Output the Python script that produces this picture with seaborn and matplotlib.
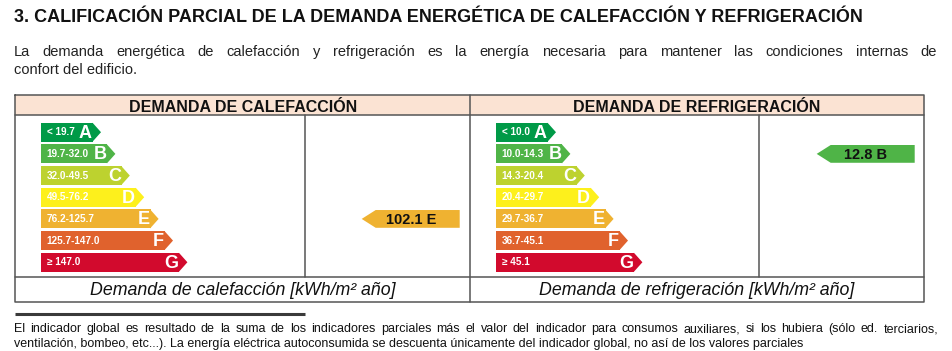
import numpy as np
import pandas as pd
import matplotlib
matplotlib.use('Agg')
import matplotlib.pyplot as plt
import seaborn as sns

# datos de la calificacion
classes = ['A', 'B', 'C', 'D', 'E', 'F', 'G']
class_colors = ['#009a47', '#4fb447', '#bdd22f', '#fdf01c', '#efb231', '#e0622d', '#d20a2d']
heat_ranges = ['< 19.7', '19.7-32.0', '32.0-49.5', '49.5-76.2', '76.2-125.7', '125.7-147.0', '≥ 147.0']
cool_ranges = ['< 10.0', '10.0-14.3', '14.3-20.4', '20.4-29.7', '29.7-36.7', '36.7-45.1', '≥ 45.1']
heat_limits = [19.7, 32.0, 49.5, 76.2, 125.7, 147.0]
cool_limits = [10.0, 14.3, 20.4, 29.7, 36.7, 45.1]
heat_value = 102.1
cool_value = 12.8

title = '3. CALIFICACIÓN PARCIAL DE LA DEMANDA ENERGÉTICA DE CALEFACCIÓN Y REFRIGERACIÓN'
intro = ['La demanda energética de calefacción y refrigeración es la energía necesaria para mantener las condiciones internas de',
         'confort del edificio.']
headers = ['DEMANDA DE CALEFACCIÓN', 'DEMANDA DE REFRIGERACIÓN']
units = ['Demanda de calefacción [kWh/m² año]', 'Demanda de refrigeración [kWh/m² año]']
footnote = ['El indicador global es resultado de la suma de los indicadores parciales más el valor del indicador para consumos auxiliares, si los hubiera (sólo ed. terciarios,',
            'ventilación, bombeo, etc...). La energía eléctrica autoconsumida se descuenta únicamente del indicador global, no así de los valores parciales']

sns.set_theme(style='white')
plt.rcParams['font.family'] = ['Liberation Sans', 'DejaVu Sans']

W, H = 953, 351
fig = plt.figure(figsize=(W / 100, H / 100), dpi=100)
fig.patch.set_facecolor('white')
renderer = fig.canvas.get_renderer()

# lienzo en pixeles para el documento y la tabla
canvas = fig.add_axes([0, 0, 1, 1])
canvas.set_xlim(0, W)
canvas.set_ylim(H, 0)
canvas.axis('off')


def fit(t, width):
    # ajustar el tamano de letra a un ancho en pixeles
    w = t.get_window_extent(renderer).width
    t.set_fontsize(t.get_fontsize() * width / w)
    return t


def justify(line, x0, x1, y, **kw):
    words = line.split()
    texts = [canvas.text(0, y, w, va='baseline', **kw) for w in words]
    widths = [t.get_window_extent(renderer).width for t in texts]
    gap = (x1 - x0 - sum(widths)) / (len(words) - 1)
    x = x0
    for t, w in zip(texts, widths):
        t.set_x(x)
        x += w + gap


# titulo y texto
fit(canvas.text(14, 22, title, fontsize=12, fontweight='bold', color='#111111'), 842)
justify(intro[0], 14, 937, 56, fontsize=10.5, color='#222222')
canvas.text(14, 74, intro[1], fontsize=10.5, color='#222222')

# tabla
line_kw = dict(color='#555555', lw=1.1)
canvas.fill_between([15, 924], 95, 115, color='#fbe3d3', lw=0)
canvas.plot([15, 924, 924, 15, 15], [95, 95, 302, 302, 95], **line_kw)
canvas.plot([15, 924], [115, 115], **line_kw)
canvas.plot([15, 924], [277, 277], **line_kw)
canvas.plot([470, 470], [95, 302], **line_kw)
canvas.plot([305, 305], [115, 277], **line_kw)
canvas.plot([759, 759], [115, 277], **line_kw)
for cx, head, unit, hw, uw in zip([243, 697], headers, units, [228, 246], [307, 317]):
    fit(canvas.text(cx, 112, head, ha='center', va='baseline', fontsize=10,
                    fontweight='bold', color='#111111'), hw)
    fit(canvas.text(cx, 295, unit, ha='center', va='baseline', fontsize=11,
                    style='italic', color='#111111'), uw)

# nota al pie
canvas.plot([15, 305], [314, 314], color='#3a3a3a', lw=2.2, solid_capstyle='butt')
last = fit(canvas.text(14, 347, footnote[1], va='baseline', fontsize=8.5,
                       color='#111111'), 786)
justify(footnote[0], 14, 938, 332, fontsize=last.get_fontsize(), color='#111111')

# escalas de letras
bar_h = 0.877
tip = 8
body = [52.3 + 14.4 * i for i in range(len(classes))]


def draw_scale(left_px, ranges, limits, value):
    ax = fig.add_axes([left_px / W, (H - 277) / H, 455 / W, 162 / H])
    df = pd.DataFrame({'clase': classes, 'largo': body})
    sns.barplot(data=df, x='largo', y='clase', hue='clase', palette=class_colors,
                width=bar_h, saturation=1, legend=False, linewidth=0, ax=ax)
    for i, (L, col, rng, c) in enumerate(zip(body, class_colors, ranges, classes)):
        ax.fill([L - 0.5, L + tip, L - 0.5], [i - bar_h / 2, i, i + bar_h / 2], color=col, lw=0)
        ax.text(6, i, rng, color='white', fontsize=7.2, fontweight='bold', va='center')
        ax.text(L - 1, i + 0.05, c, color='white', fontsize=13, fontweight='bold',
                va='center', ha='right')
    # indicador del edificio
    k = int(np.searchsorted(limits, value, side='right'))
    h = 0.82
    ax.fill([321, 335, 419, 419, 335], [k, k - h / 2, k - h / 2, k + h / 2, k + h / 2],
            color=class_colors[k], lw=0)
    ax.text(370, k + 0.03, '%.1f %s' % (value, classes[k]), fontsize=10.5,
            fontweight='bold', color='#111111', ha='center', va='center')
    ax.set_xlim(-25.7, 455 - 25.7)
    ax.set_ylim(6.68, -0.794)
    ax.axis('off')
    return ax


draw_scale(15, heat_ranges, heat_limits, heat_value)
draw_scale(470, cool_ranges, cool_limits, cool_value)

fig.savefig('out.png', dpi=100, facecolor='white')
